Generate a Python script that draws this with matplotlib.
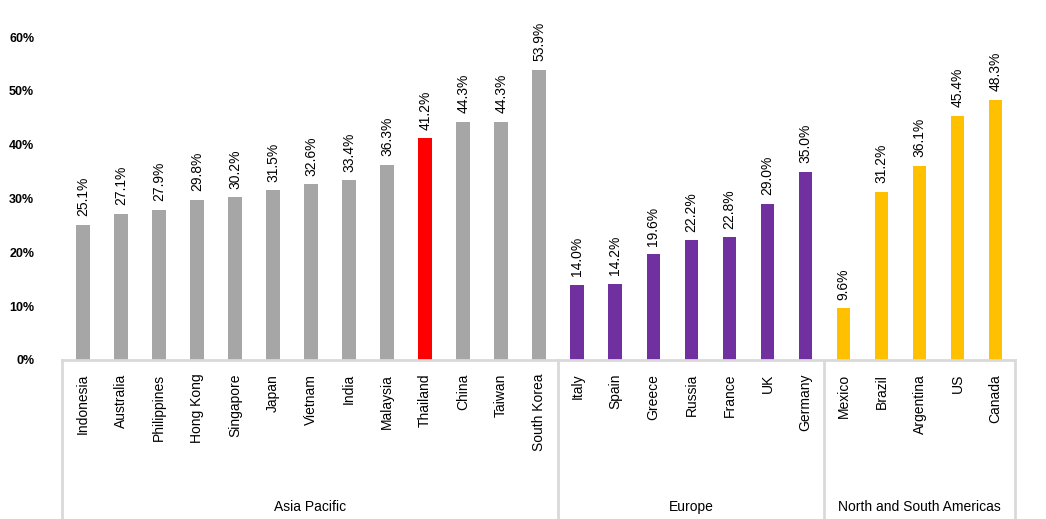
import matplotlib.pyplot as plt

plt.rcParams['font.family'] = ['Liberation Sans', 'DejaVu Sans']

asia = ['Indonesia', 'Australia', 'Philippines', 'Hong Kong', 'Singapore', 'Japan',
        'Vietnam', 'India', 'Malaysia', 'Thailand', 'China', 'Taiwan', 'South Korea']
asia_vals = [25.1, 27.1, 27.9, 29.8, 30.2, 31.5, 32.6, 33.4, 36.3, 41.2, 44.3, 44.3, 53.9]
europe = ['Italy', 'Spain', 'Greece', 'Russia', 'France', 'UK', 'Germany']
europe_vals = [14.0, 14.2, 19.6, 22.2, 22.8, 29.0, 35.0]
americas = ['Mexico', 'Brazil', 'Argentina', 'US', 'Canada']
americas_vals = [9.6, 31.2, 36.1, 45.4, 48.3]
groups = ['Asia Pacific', 'Europe', 'North and South Americas']

gray, red, purple, yellow = '#A6A6A6', '#FF0000', '#7030A0', '#FFC000'
line_col = '#D9D9D9'

labels = asia + europe + americas
values = asia_vals + europe_vals + americas_vals
colors = [red if c == 'Thailand' else gray for c in asia] + [purple] * len(europe) + [yellow] * len(americas)
x = list(range(len(labels)))

fig = plt.figure(figsize=(10.46, 5.19), dpi=100)
ax = fig.add_axes([0.0593, 0.3064, 0.9107, 0.6223])
ax.bar(x, values, width=0.36, color=colors, zorder=2)

for xi, v in zip(x, values):
    ax.text(xi, v + 1.6, f'{v:.1f}%', rotation=90, ha='center', va='bottom',
            fontsize=10, clip_on=False)

ax.set_xlim(-0.55, len(labels) - 0.5)
ax.set_ylim(0, 60)
ax.set_yticks(range(0, 61, 10))
ax.set_yticklabels([f'{t}%' for t in range(0, 61, 10)], fontsize=9, fontweight='bold')
ax.tick_params(axis='y', length=0, pad=20)
ax.set_xticks(x)
ax.set_xticklabels(labels, rotation=90, fontsize=10, va='top')
ax.tick_params(axis='x', length=0, pad=10)
for s in ['top', 'right', 'left']:
    ax.spines[s].set_visible(False)
ax.spines['bottom'].set_color(line_col)
ax.spines['bottom'].set_linewidth(2)

# group box lines
trans = ax.get_xaxis_transform()
sizes = [len(asia), len(europe), len(americas)]
bounds = [-0.55]
start = 0
for n in sizes:
    start += n
    bounds.append(start - 0.5)
for b in bounds:
    ax.plot([b, b], [0, -0.6], transform=trans, color=line_col, lw=2, clip_on=False)
for g, lo, hi in zip(groups, bounds[:-1], bounds[1:]):
    ax.text((lo + hi) / 2, -0.455, g, transform=trans, ha='center', va='center', fontsize=10)

fig.savefig('out.png', dpi=100)
